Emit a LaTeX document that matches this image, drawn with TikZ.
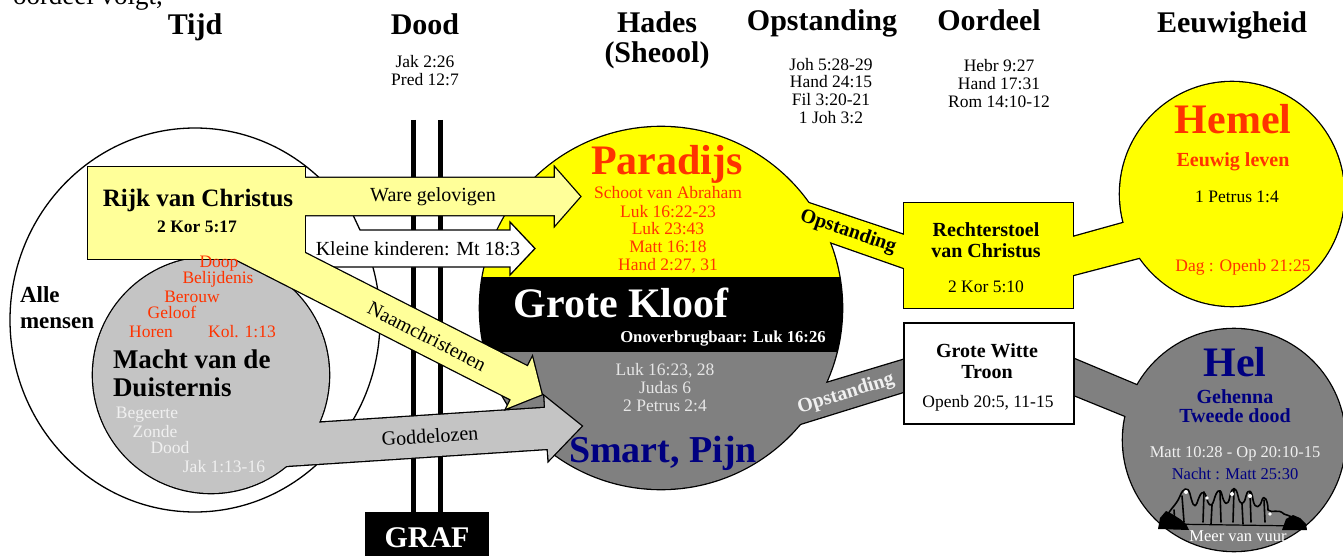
\documentclass[tikz,border=0pt]{standalone}
\usepackage{fontspec}
\setmainfont{Liberation Serif}
\definecolor{lyel}{HTML}{FFFF99}
\definecolor{byel}{HTML}{FFFF00}
\definecolor{redt}{HTML}{FF3300}
\definecolor{navyt}{HTML}{000080}
\definecolor{dgray}{HTML}{808080}
\definecolor{lgray}{HTML}{C4C4C4}
\definecolor{wtxt}{HTML}{F0F0F0}
\definecolor{ltxt}{HTML}{E6E6E6}
\newcommand\myfs[1]{\fontsize{#1}{#1}\selectfont}
\begin{document}
\begin{tikzpicture}[x=1pt,y=-1pt,
  every node/.style={inner sep=0pt,outer sep=0pt},
  ol/.style={line width=2.6pt,draw=black},
  thinol/.style={line width=1.3pt,draw=black},
  lbl/.style={anchor=base},
  lblw/.style={anchor=base west},
  hdr/.style={anchor=base,font={\bfseries\myfs{30}}},
  refs/.style={anchor=base,font={\myfs{17.5}}},
  arrl/.style={anchor=center,font={\myfs{20}}},
  fig/.style={line width=1.6pt,line cap=round,line join=round},
]
\useasboundingbox (0,0) rectangle (1343,556);
\fill[white] (0,0) rectangle (1343,556);

% ---------- right side group: strokes ----------
\draw[ol] (661,308) circle (181pt);
\draw[ol] (760,186.8) -- (920,240.4) -- (920,273.6) -- (760,217.4) -- cycle;
\draw[ol] (760,403) -- (920,354.9) -- (920,386.7) -- (760,436.3) -- cycle;
\draw[ol] (904,203) rectangle (1073,308);
\draw[ol] (1060,240.6) -- (1160,212.8) -- (1160,252.3) -- (1060,278.4) -- cycle;
\draw[ol] (1232,194) circle (112pt);
\draw[ol] (1060,353.1) -- (1160,395) -- (1160,430) -- (1060,389.3) -- cycle;
\draw[ol] (1234,440) circle (111pt);
% ---------- fills ----------
\begin{scope}
\clip (661,308) circle (181pt);
\fill[byel] (470,120) rectangle (850,277);
\fill[black] (470,277) rectangle (850,352);
\fill[dgray] (470,352) rectangle (850,495);
\end{scope}
\fill[byel] (760,186.8) -- (920,240.4) -- (920,273.6) -- (760,217.4) -- cycle;
\fill[dgray] (760,403) -- (920,354.9) -- (920,386.7) -- (760,436.3) -- cycle;
\fill[byel] (904,203) rectangle (1073,308);
\fill[byel] (1060,240.6) -- (1160,212.8) -- (1160,252.3) -- (1060,278.4) -- cycle;
\fill[byel] (1232,194) circle (112pt);
\fill[dgray] (1060,353.1) -- (1160,395) -- (1160,430) -- (1060,389.3) -- cycle;
\fill[dgray] (1234,440) circle (111pt);
% Troon box
\draw[thinol,fill=white] (904,323) rectangle (1074,424);

% ---------- left side ----------
\draw[thinol,fill=white] (195,320) ellipse [x radius=185pt, y radius=192pt];
\draw[line width=5pt] (413,120) -- (413,515);
\draw[line width=5pt] (440,120) -- (440,515);
\fill[black] (365,512) rectangle (489,560);
% Kleine kinderen arrow
\draw[thinol,fill=white] (300,215) -- (353,215) -- (360,230) -- (510,230) -- (510,222) -- (535,248.5) -- (510,275) -- (510,267) -- (300,267) -- cycle;
% gray group
\draw[ol] (211,375) circle (118pt);
\begin{scope}[shift={(330,442.5)},rotate=3.73]
\draw[ol] (-120,-20.5) -- (217,-20.5) -- (217,-32) -- (252,0) -- (217,32) -- (217,20.5) -- (-120,20.5) -- cycle;
\fill[lgray] (-120,-20.5) -- (217,-20.5) -- (217,-32) -- (252,0) -- (217,32) -- (217,20.5) -- (-120,20.5) -- cycle;
\end{scope}
\fill[lgray] (211,375) circle (118pt);
% yellow group
\draw[ol] (88,167) rectangle (305,259);
\draw[ol] (300,178) -- (555,178) -- (555,168) -- (580,196.5) -- (555,225) -- (555,215) -- (300,215) -- cycle;
\begin{scope}[shift={(296.6,269.5)},rotate=-27]
\draw[ol] (-100,-18.5) -- (250,-18.5) -- (250,-28.5) -- (275,0) -- (250,28.5) -- (250,18.5) -- (-100,18.5) -- cycle;
\fill[lyel] (-100,-18.5) -- (250,-18.5) -- (250,-28.5) -- (275,0) -- (250,28.5) -- (250,18.5) -- (-100,18.5) -- cycle;
\end{scope}
\fill[lyel] (88,167) rectangle (305,259);
\fill[lyel] (300,178) -- (555,178) -- (555,168) -- (580,196.5) -- (555,225) -- (555,215) -- (300,215) -- cycle;

% ---------- flames / figures in Hel ----------
\fill[black] (1158,529) -- (1160,518) -- (1166,511) -- (1172,514) -- (1180,519) -- (1186,524) -- (1189,530) -- cycle;
\fill[black] (1282,530) -- (1286,519) -- (1293,515) -- (1300,518) -- (1306,524) -- (1307,530) -- cycle;
\draw[fig] (1165,520) .. controls (1170,508) and (1176,506) .. (1180,496) .. controls (1183,488) and (1188,486) .. (1190,494)
  .. controls (1192,502) and (1194,510) .. (1197,503) .. controls (1200,494) and (1203,488) .. (1206,496)
  .. controls (1208,504) and (1211,510) .. (1214,500) .. controls (1216,492) and (1220,486) .. (1222,495)
  .. controls (1224,504) and (1228,508) .. (1230,496) .. controls (1232,486) and (1236,486) .. (1238,496)
  .. controls (1240,506) and (1244,506) .. (1246,496) .. controls (1248,488) and (1252,490) .. (1253,500)
  .. controls (1255,510) and (1260,508) .. (1262,500) .. controls (1264,494) and (1268,500) .. (1268,510)
  .. controls (1272,514) and (1278,508) .. (1284,514) .. controls (1290,516) and (1296,518) .. (1300,524);
\draw[fig] (1182,496) -- (1184,522) (1204,492) -- (1203,522) (1220,492) -- (1221,522) (1234,489) -- (1233,522)
  (1250,492) -- (1251,522) (1264,500) -- (1265,522) (1174,510) -- (1175,524) (1212,505) -- (1211,524) (1242,504) -- (1243,524);
\draw[line width=1.2pt] (1166,524) -- (1300,526);
\fill[white] (1186,492) circle (2pt) (1232,494) circle (2pt) (1250,496) circle (2pt) (1207,498) circle (1.8pt) (1270,514) circle (1.8pt);

% ---------- texts ----------
\node[lblw,font={\myfs{27}}] (toptxt) at (13,5) {oordeel volgt,};
\node[hdr] (tijd) at (195,35) {Tijd};
\node[hdr] (dood) at (425,35) {Dood};
\node[hdr] (hades) at (657,33) {Hades};
\node[hdr] (sheool) at (657,63) {(Sheool)};
\node[hdr] (opst) at (822,31) {Opstanding};
\node[hdr] (oord) at (989,31) {Oordeel};
\node[hdr] (eeuw) at (1232,33) {Eeuwigheid};

\node[refs] (jak) at (425,68) {Jak 2:26};
\node[refs] (pred) at (425,86) {Pred 12:7};
\node[refs] (joh) at (831,71) {Joh 5:28-29};
\node[refs] (handa) at (831,88) {Hand 24:15};
\node[refs] (fil) at (831,106) {Fil 3:20-21};
\node[refs] (johb) at (831,124) {1 Joh 3:2};
\node[refs] (hebr) at (999,72) {Hebr 9:27};
\node[refs] (handb) at (999,90) {Hand 17:31};
\node[refs] (rom) at (999,108) {Rom 14:10-12};

\node[lbl,font={\bfseries\myfs{25}}] (rijk) at (198,207) {Rijk van Christus};
\node[lbl,font={\bfseries\myfs{17.5}}] (kora) at (197,233) {2 Kor 5:17};
\node[lblw,font={\bfseries\myfs{23}}] (alle) at (20,302) {Alle};
\node[lblw,font={\bfseries\myfs{23}}] (mensen) at (20,328) {mensen};
\node[refs,text=redt] (doop) at (219,267) {Doop};
\node[refs,text=redt] (belijd) at (218,283) {Belijdenis};
\node[refs,text=redt] (berouw) at (192,302) {Berouw};
\node[refs,text=redt] (geloof) at (172,318) {Geloof};
\node[refs,text=redt] (horen) at (151,337) {Horen};
\node[refs,text=redt] (kol) at (242,337) {Kol. 1:13};
\node[lblw,font={\bfseries\myfs{27}}] (macht) at (113,368) {Macht van de};
\node[lblw,font={\bfseries\myfs{27}}] (duist) at (113,396) {Duisternis};
\node[refs,text=wtxt] (beg) at (147,418) {Begeerte};
\node[refs,text=wtxt] (zonde) at (155,437) {Zonde};
\node[refs,text=wtxt] (doodb) at (170,453) {Dood};
\node[refs,text=wtxt] (jakb) at (224,472) {Jak 1:13-16};

\node[arrl] (ware) at (433,196.5) {Ware gelovigen};
\node[arrl] (kleine) at (418,248.5) {Kleine kinderen: Mt 18:3};
\node[arrl,rotate=-27] (naam) at (427,336) {Naamchristenen};
\node[arrl,rotate=3.7] (godd) at (430,436) {Goddelozen};

\node[lbl,text=redt,font={\bfseries\myfs{42}}] (parad) at (667,175) {Paradijs};
\node[refs,text=redt] (schoot) at (668,198) {Schoot van Abraham};
\node[refs,text=redt] (luka) at (668,217) {Luk 16:22-23};
\node[refs,text=redt] (lukb) at (668,234) {Luk 23:43};
\node[refs,text=redt] (matta) at (668,252) {Matt 16:18};
\node[refs,text=redt] (handc) at (668,270) {Hand 2:27, 31};
\node[lbl,text=white,font={\bfseries\myfs{42}}] (kloof) at (621,317) {Grote Kloof};
\node[lbl,text=white,font={\bfseries\myfs{16.7}}] (onover) at (723,342) {Onoverbrugbaar: Luk 16:26};
\node[refs,text=ltxt] (lukc) at (665,375) {Luk 16:23, 28};
\node[refs,text=ltxt] (judas) at (665,393) {Judas 6};
\node[refs,text=ltxt] (petra) at (665,411) {2 Petrus 2:4};
\node[lbl,text=navyt,font={\bfseries\myfs{38}}] (smart) at (663,462) {Smart, Pijn};

\node[anchor=center,rotate=-19,font={\bfseries\myfs{20}}] (opsta) at (848,232) {Opstanding};
\node[anchor=center,rotate=17,text=wtxt,font={\bfseries\myfs{20}}] (opstb) at (846,394) {Opstanding};

\node[lbl,font={\bfseries\myfs{20}}] (recht) at (986,236) {Rechterstoel};
\node[lbl,font={\bfseries\myfs{20}}] (vanchr) at (986,257) {van Christus};
\node[refs] (korb) at (986,292) {2 Kor 5:10};
\node[lbl,text=redt,font={\bfseries\myfs{42}}] (hemel) at (1233,134) {Hemel};
\node[lbl,text=redt,font={\bfseries\myfs{20}}] (eeuwl) at (1233,167) {Eeuwig leven};
\node[refs] (petrb) at (1237,203) {1 Petrus 1:4};
\node[refs,text=redt] (dag) at (1243,271) {Dag : Openb 21:25};

\node[lbl,font={\bfseries\myfs{20}}] (grw) at (987,357) {Grote Witte};
\node[lbl,font={\bfseries\myfs{20}}] (troon) at (987,378) {Troon};
\node[refs] (openb) at (988,407) {Openb 20:5, 11-15};

\node[lbl,text=navyt,font={\bfseries\myfs{42}}] (hel) at (1235,376) {Hel};
\node[lbl,text=navyt,font={\bfseries\myfs{20}}] (gehenna) at (1235,403) {Gehenna};
\node[lbl,text=navyt,font={\bfseries\myfs{20}}] (tweede) at (1235,422) {Tweede dood};
\node[lbl,text=wtxt,font={\myfs{16.5}}] (mattop) at (1235,457) {Matt 10:28 - Op 20:10-15};
\node[lbl,text=navyt,font={\myfs{16.5}}] (nacht) at (1235,479) {Nacht : Matt 25:30};
\node[lbl,text=white,font={\myfs{16.5}}] (meer) at (1238,541) {Meer van vuur};

\node[lbl,text=white,font={\bfseries\myfs{30}}] (graf) at (427,547) {GRAF};
\end{tikzpicture}
\end{document}
